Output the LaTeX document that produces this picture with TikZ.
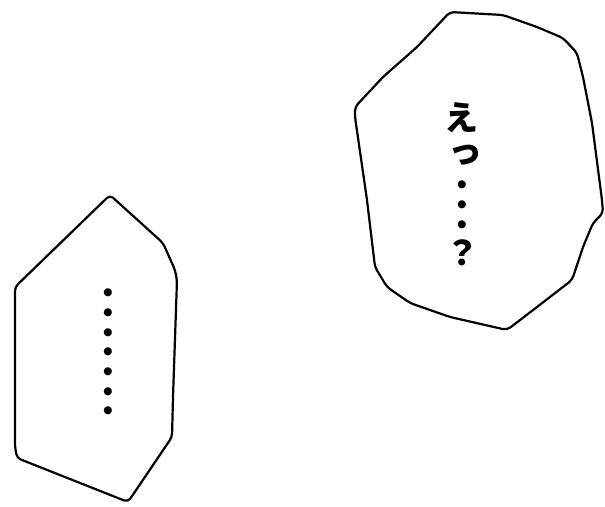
\documentclass[tikz,border=0pt]{standalone}
\usepackage{fontspec}
\newfontfamily\cjk{Noto Sans CJK JP}
\newfontfamily\symb{DejaVu Sans}

\begin{document}
\begin{tikzpicture}[x=1pt,y=-1pt]
\tikzset{bubble/.style={draw,line width=2.2pt,line join=round,rounded corners=4pt},
  kana/.style={inner sep=0pt,font=\cjk\bfseries\fontsize{34}{34}\selectfont},
  dot/.style={inner sep=0pt,font=\symb\fontsize{10.5}{10.5}\selectfont}}
\useasboundingbox (0,0) rectangle (605,506);
\draw[bubble] (450,12) -- (503,15) -- (537,27) -- (563,38) -- (577,53) -- (583,77)
  -- (592,123) -- (602,200) -- (603,213) -- (593,223) -- (583,247) -- (572,280)
  -- (537,307) -- (507,330) -- (450,317) -- (410,303) -- (387,287) -- (375,267)
  -- (367,200) -- (355,117) -- (355,107) -- (383,77) -- (417,47) -- cycle;
\draw[bubble] (110,195) -- (163,243) -- (175,270) -- (177,280) -- (173,397)
  -- (172,437) -- (128,502) -- (17,458) -- (15,447) -- (15,287) -- cycle;
\node[kana] (e) at (461,118) {え};
\node[kana] (tsu) at (465,155) {っ};
\foreach \i/\y in {1/185,2/205,3/225}
  \node[dot] (r\i) at (462,\y) {●};
\node[kana] (q) at (462,253) {？};
\foreach \i in {1,...,7}
  \node[dot] (l\i) at (108,{293+19.7*(\i-1)}) {●};
\end{tikzpicture}
\end{document}
